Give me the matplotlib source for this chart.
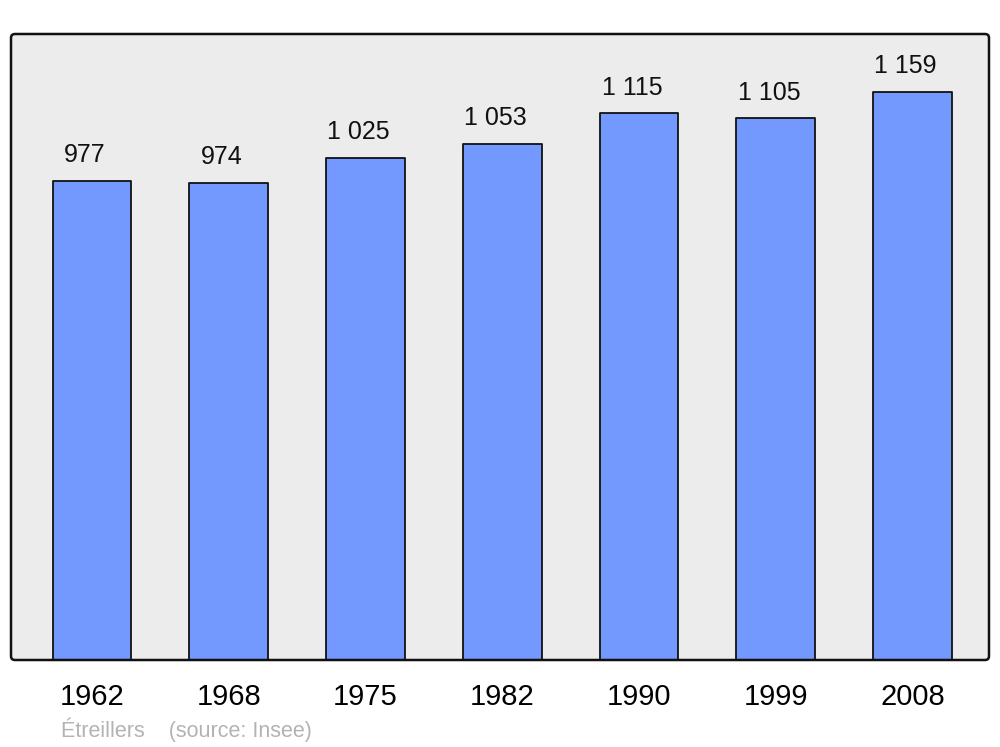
import matplotlib
matplotlib.use("Agg")
import matplotlib.pyplot as plt
from matplotlib.patches import FancyBboxPatch
from matplotlib.transforms import IdentityTransform

years = ["1962", "1968", "1975", "1982", "1990", "1999", "2008"]
population = [977, 974, 1025, 1053, 1115, 1105, 1159]
value_labels = ["977", "974", "1 025", "1 053", "1 115", "1 105", "1 159"]
footer = "Étreillers    (source: Insee)"

plt.rcParams['font.family'] = ['Liberation Sans', 'DejaVu Sans']

W, H = 1000, 747
fig = plt.figure(figsize=(10, 7.47), dpi=100)

# rounded frame background in pixel coords (drawn beneath the axes)
bg = FancyBboxPatch((11, 87), 978, 626,
                    boxstyle="round,pad=0,rounding_size=4",
                    transform=IdentityTransform(),
                    facecolor="#ececec", edgecolor="none", zorder=-2)
fig.patches.append(bg)

ax = fig.add_axes([0.011, 87 / H, 0.978, (660 - 34) / H])
ax.patch.set_visible(False)
for s in ax.spines.values():
    s.set_visible(False)

x = list(range(len(years)))
bars = ax.bar(x, population, width=0.575, color="#7399ff",
              edgecolor="#111111", linewidth=1.3, zorder=2)
for b in bars:
    b.set_joinstyle("round")

for xi, v, lab in zip(x, population, value_labels):
    ax.annotate(lab, (xi, v), xytext=(-5, 18.5), textcoords="offset points",
                ha="center", va="center", fontsize=18, color="#111111")

ax.set_xlim(-0.592, 6.559)
ax.set_ylim(0, 1277)
ax.set_yticks([])
ax.set_xticks(x)
ax.set_xticklabels(years, fontsize=21)
ax.tick_params(axis="x", length=0, pad=16.5)

# frame outline drawn on top
frame = FancyBboxPatch((11, 87), 978, 626,
                       boxstyle="round,pad=0,rounding_size=4",
                       transform=IdentityTransform(),
                       facecolor="none", edgecolor="#111111", linewidth=1.8,
                       zorder=5)
fig.patches.append(frame)

fig.text(61 / W, 1 - 730 / H, footer, fontsize=15.5, color="#b3b3b3",
         ha="left", va="center")

fig.savefig("out.png", dpi=100)
